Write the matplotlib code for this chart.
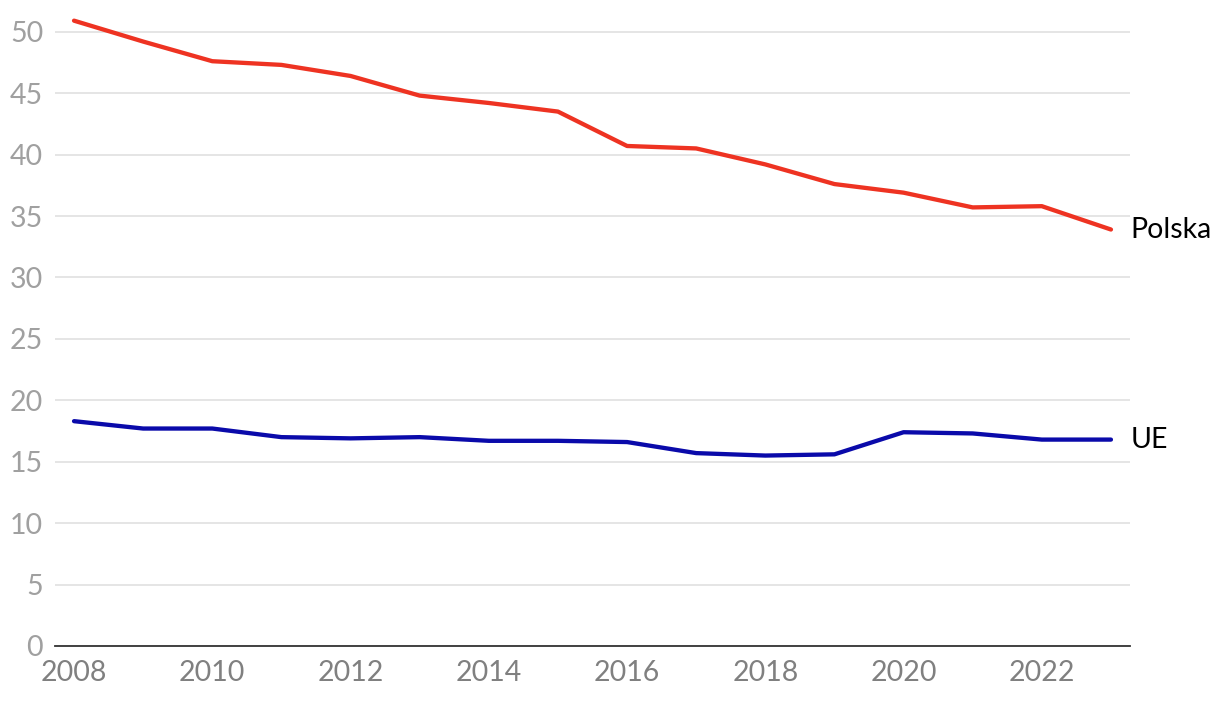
import matplotlib
matplotlib.use("Agg")
import matplotlib.pyplot as plt

# dane
years = list(range(2008, 2024))
polska = [50.9, 49.2, 47.6, 47.3, 46.4, 44.8, 44.2, 43.5, 40.7, 40.5, 39.2, 37.6, 36.9, 35.7, 35.8, 33.9]
ue = [18.3, 17.7, 17.7, 17.0, 16.9, 17.0, 16.7, 16.7, 16.6, 15.7, 15.5, 15.6, 17.4, 17.3, 16.8, 16.8]
yticks = list(range(0, 55, 5))
xticks = list(range(2008, 2024, 2))

plt.rcParams['font.family'] = ['Lato', 'DejaVu Sans']

fig = plt.figure(figsize=(12.2, 7.02), dpi=100)
ax = fig.add_axes([0.0451, 0.0798, 0.8811, 0.910])

ax.plot(years, polska, color='#ee3322', lw=3.1, solid_capstyle='round', zorder=3)
ax.plot(years, ue, color='#0a0aaa', lw=3.1, solid_capstyle='round', zorder=3)

ax.text(years[-1] + 0.28, polska[-1], 'Polska', fontsize=20.5, color='black', va='center', ha='left')
ax.text(years[-1] + 0.28, ue[-1], 'UE', fontsize=20.5, color='black', va='center', ha='left')

ax.set_xlim(2007.725, 2023.275)
ax.set_ylim(0, 52)
ax.set_yticks(yticks)
ax.set_xticks(xticks)
ax.tick_params(axis='y', length=0, pad=8.5, labelsize=20.5, labelcolor='#a0a0a0')
ax.tick_params(axis='x', length=0, pad=10, labelsize=20.5, labelcolor='#808080')
ax.grid(axis='y', color='#e3e3e3', lw=1.3)
ax.set_axisbelow(True)
for s in ['top', 'right', 'left']:
    ax.spines[s].set_visible(False)
ax.spines['bottom'].set_color('#333333')
ax.spines['bottom'].set_linewidth(1.3)
ax.spines['bottom'].set_zorder(4)

fig.savefig('out.png', dpi=100)
